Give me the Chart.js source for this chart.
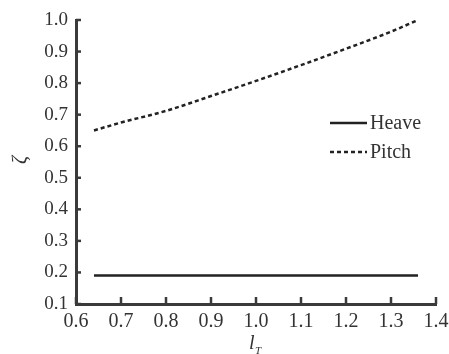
<!DOCTYPE html>
<html><head><meta charset="utf-8">
<script src="https://cdn.jsdelivr.net/npm/chart.js@4"></script>
<style>html,body{margin:0;padding:0;background:#fff}#c{display:block}</style>
</head><body>
<canvas id="c" width="449" height="354"></canvas>
<script>
const lT = [0.64, 0.7, 0.8, 0.9, 1.0, 1.1, 1.2, 1.3, 1.36];
const heave = [0.19, 0.19, 0.19, 0.19, 0.19, 0.19, 0.19, 0.19, 0.19];
const pitch = [0.65, 0.675, 0.712, 0.759, 0.807, 0.857, 0.909, 0.963, 1.0];
const xTicks = [0.6, 0.7, 0.8, 0.9, 1.0, 1.1, 1.2, 1.3, 1.4];
const yTicks = [0.1, 0.2, 0.3, 0.4, 0.5, 0.6, 0.7, 0.8, 0.9, 1.0];
const seriesNames = ['Heave', 'Pitch'];

const FONT = '"Liberation Serif", "DejaVu Serif", serif';
const AX = '#3a3a3a';

const inwardTicks = {
  id: 'inwardTicks',
  afterDraw(chart) {
    const ctx = chart.ctx, x = chart.scales.x, y = chart.scales.y, a = chart.chartArea;
    ctx.save();
    ctx.strokeStyle = AX; ctx.lineWidth = 2.5;
    xTicks.forEach(v => { const px = x.getPixelForValue(v); ctx.beginPath(); ctx.moveTo(px, a.bottom); ctx.lineTo(px, a.bottom - 7); ctx.stroke(); });
    yTicks.forEach(v => { const py = y.getPixelForValue(v); ctx.beginPath(); ctx.moveTo(a.left, py); ctx.lineTo(a.left + 5, py); ctx.stroke(); });
    // axis titles
    ctx.fillStyle = '#333';
    ctx.font = 'italic 20px ' + FONT;
    ctx.textAlign = 'center'; ctx.textBaseline = 'middle';
    ctx.save(); ctx.translate(21, 160); ctx.rotate(-Math.PI / 2); ctx.fillText('ζ', 0, 0); ctx.restore();
    ctx.textAlign = 'left'; ctx.textBaseline = 'alphabetic';
    ctx.fillText('l', 249, 349);
    ctx.font = 'italic 11px ' + FONT;
    ctx.fillText('T', 255, 354);
    // legend
    const ds = chart.data.datasets;
    const rows = [123, 152];
    ds.forEach((d, i) => {
      ctx.save();
      ctx.strokeStyle = d.borderColor; ctx.lineWidth = d.borderWidth;
      ctx.setLineDash(d.borderDash || []);
      ctx.beginPath(); ctx.moveTo(330, rows[i]); ctx.lineTo(367, rows[i]); ctx.stroke();
      ctx.restore();
      ctx.fillStyle = '#333'; ctx.font = '20px ' + FONT; ctx.textBaseline = 'middle'; ctx.textAlign = 'left';
      ctx.fillText(d.label, 370, rows[i] + 1);
    });
    ctx.restore();
  }
};

new Chart(document.getElementById('c'), {
  type: 'line',
  data: {
    datasets: [
      { label: seriesNames[0], data: lT.map((x, i) => ({ x, y: heave[i] })), borderColor: '#222', borderWidth: 2.5, pointRadius: 0, fill: false },
      { label: seriesNames[1], data: lT.map((x, i) => ({ x, y: pitch[i] })), borderColor: '#222', borderWidth: 2.5, borderDash: [4, 3], pointRadius: 0, fill: false, cubicInterpolationMode: 'monotone' }
    ]
  },
  options: {
    responsive: false, animation: false, devicePixelRatio: 1,
    layout: { padding: { top: 20, right: 13, left: 0, bottom: 0 } },
    plugins: { legend: { display: false }, tooltip: { enabled: false } },
    scales: {
      x: {
        type: 'linear', min: 0.6, max: 1.4,
        afterBuildTicks: s => { s.ticks = xTicks.map(v => ({ value: v })); },
        afterFit: s => { s.height = 50; s.paddingLeft = 0; s.paddingRight = 0; },
        grid: { display: false, drawTicks: false },
        border: { display: true, color: AX, width: 3 },
        ticks: { color: '#333', font: { family: FONT, size: 20 }, padding: 6, maxRotation: 0, autoSkip: false, callback: v => v.toFixed(1) }
      },
      y: {
        type: 'linear', min: 0.1, max: 1.0,
        afterBuildTicks: s => { s.ticks = yTicks.map(v => ({ value: v })); },
        afterFit: s => { s.width = 76; s.paddingTop = 0; s.paddingBottom = 0; },
        grid: { display: false, drawTicks: false },
        border: { display: true, color: AX, width: 3 },
        ticks: { color: '#333', font: { family: FONT, size: 19 }, padding: 8, autoSkip: false, callback: v => v.toFixed(1) }
      }
    }
  },
  plugins: [inwardTicks]
});
</script>
</body></html>
